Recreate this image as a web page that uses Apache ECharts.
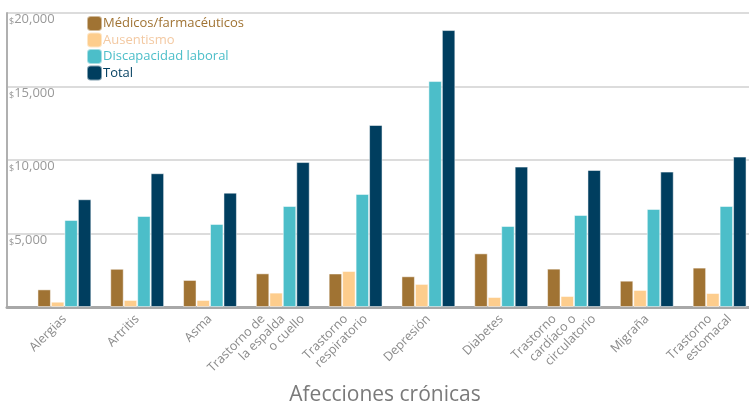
<!DOCTYPE html>
<html><head><meta charset="utf-8">
<script src="https://cdn.jsdelivr.net/npm/echarts@6/dist/echarts.min.js"></script>
<style>html,body{margin:0;padding:0;background:#fff}#c{width:749px;height:403px}</style>
</head><body><div id="c"></div>
<script>
const categories = ["Alergias","Artritis","Asma","Trastorno de\nla espalda\no cuello","Trastorno\nrespiratorio","Depresión","Diabetes","Trastorno\ncardíaco o\ncirculatorio","Migraña","Trastorno\nestomacal"];
const medicos = [1200,2600,1840,2290,2280,2090,3650,2610,1790,2680];
const ausentismo = [360,480,480,980,2450,1570,680,750,1160,950];
const discapacidad = [5920,6190,5650,6870,7690,15370,5510,6260,6670,6870];
const total = [7330,9100,7780,9860,12380,18840,9550,9320,9210,10230];
const yTicks = [0,5000,10000,15000,20000];
const seriesNames = ["Médicos/farmacéuticos","Ausentismo","Discapacidad laboral","Total"];
const colors = ["#a07333","#fdcd8d","#4cbec9","#003e5f"];
const legendText = ["#a07333","#f3c9a2","#4cbec9","#003e5f"];

const chart = echarts.init(document.getElementById('c'));
const font = "Open Sans";
const seriesData = [medicos, ausentismo, discapacidad, total];
const STEP = 14;      // along-text shift per line
const LBL_MARGIN = 10;
const GL = 28, GW = 728, GT = 13, GH = 294;

function labelAxis(gridIndex, nLines){
  const shift = (nLines-1)/2*STEP/Math.SQRT2;
  return {gridIndex, type:'category', data:categories, axisLine:{show:false}, axisTick:{show:false},
    axisLabel:{rotate:45, fontSize:12.5, color:'#8a8a8a', fontFamily:font, interval:0,
      margin:LBL_MARGIN - shift, lineHeight:14, align:'right',
      formatter:(v)=>{
        const lines = v.split('\n');
        if(lines.length!==nLines) return '';
        return lines.map((l,k)=>{
          const w=(nLines-1-k)*STEP;
          return w>0 ? l+'{sp'+w+'|\u00a0}' : l;
        }).join('\n');
      },
      rich:{sp14:{width:14,lineHeight:14}, sp28:{width:28,lineHeight:14}}
    }};
}
function labelGrid(nLines){
  const shift = (nLines-1)/2*STEP/Math.SQRT2;
  return {left:GL+shift, top:GT, width:GW, height:GH, outerBoundsMode:'none'};
}

chart.setOption({
  animation:false,
  textStyle:{fontFamily:font},
  grid:[
    {left:7, top:GT, right:0, height:GH, outerBoundsMode:'none'},
    {left:GL, top:GT, width:GW, height:GH, outerBoundsMode:'none'},
    labelGrid(2),
    labelGrid(3)
  ],
  legend:{
    left:86, top:15, padding:0, orient:'vertical', itemWidth:15, itemHeight:15, itemGap:-0.5,
    icon:'roundRect',
    data: seriesNames.map((n,i)=>({name:n, textStyle:{color:legendText[i], fontSize:13, fontFamily:font}})),
    textStyle:{fontSize:13, fontFamily:font, padding:[0,0,0,-4]}
  },
  xAxis:[
    {gridIndex:0, type:'value', min:0, max:1, axisLabel:{show:false}, axisTick:{show:false}, splitLine:{show:false},
     axisLine:{show:true, lineStyle:{color:'#a8a8a8', width:3}},
     name:'Afecciones crónicas', nameLocation:'middle', nameGap:78,
     nameTextStyle:{fontSize:21, color:'#7a7a7a', fontFamily:font, padding:[0,0,0,14]}},
    labelAxis(1,1),
    labelAxis(2,2),
    labelAxis(3,3)
  ],
  yAxis:[
    {gridIndex:0, type:'value', min:0, max:20000, interval:5000,
     axisLine:{show:true, lineStyle:{color:'#b0b0b0', width:2}}, axisTick:{show:false},
     splitLine:{show:true, lineStyle:{color:'#dcdcdc', width:2}},
     axisLabel:{inside:true, verticalAlign:'top', margin:2,
       formatter:v=> v===0 ? '' : '{s|$}{n|'+v.toLocaleString('en-US')+'}',
       rich:{s:{fontSize:9, color:'#999', fontFamily:font, verticalAlign:'bottom', padding:[4,0,0,0]}, n:{fontSize:13, color:'#999', fontFamily:font}}}},
    {gridIndex:1, type:'value', min:0, max:20000, show:false, splitLine:{show:false}},
    {gridIndex:2, type:'value', min:0, max:20000, show:false, splitLine:{show:false}},
    {gridIndex:3, type:'value', min:0, max:20000, show:false, splitLine:{show:false}}
  ],
  series: seriesNames.map((n,i)=>({
    name:n, type:'bar', xAxisIndex:1, yAxisIndex:1, data:seriesData[i],
    barGap:'0%', barCategoryGap:'26%',
    itemStyle:{color:colors[i], borderColor:'rgba(255,255,255,0.5)', borderWidth:1}
  }))
});
</script></body></html>
